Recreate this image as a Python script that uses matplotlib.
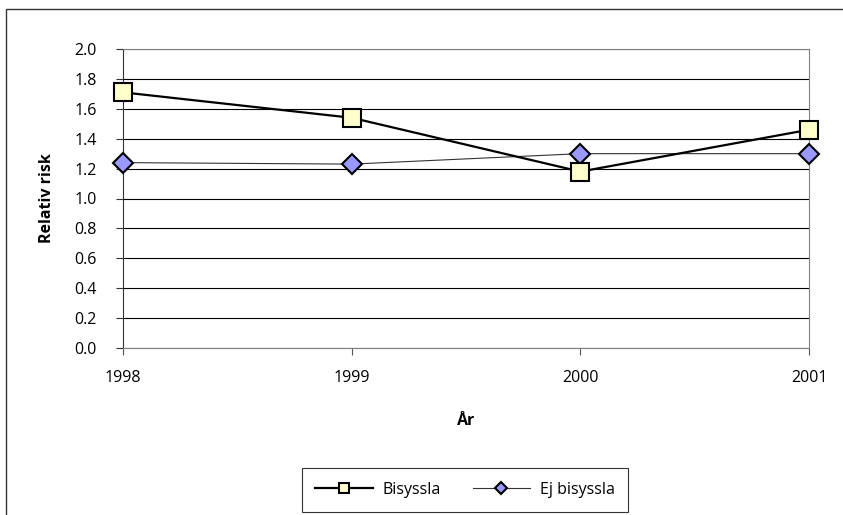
import matplotlib.pyplot as plt
from matplotlib.patches import Rectangle
from matplotlib.transforms import ScaledTranslation

plt.rcParams['font.family'] = ['Open Sans', 'DejaVu Sans']
plt.rcParams['font.size'] = 11.5

years = ['1998', '1999', '2000', '2001']
bisyssla = [1.71, 1.54, 1.18, 1.46]
ej_bisyssla = [1.24, 1.23, 1.30, 1.30]
yticks = [0.0, 0.2, 0.4, 0.6, 0.8, 1.0, 1.2, 1.4, 1.6, 1.8, 2.0]

fig = plt.figure(figsize=(8.43, 5.15), dpi=100)
ax = fig.add_axes([123/843, 1-348/515, 686/843, 299/515])

x = range(len(years))
ax.plot(x, ej_bisyssla, color='#333333', lw=0.8, marker='D', ms=10,
        mfc='#9999FF', mec='black', mew=1.5, label='Ej bisyssla', zorder=4,
        clip_on=False)
ax.plot(x, bisyssla, color='black', lw=1.6, marker='s', ms=13,
        mfc='#FFFFCC', mec='black', mew=1.5, label='Bisyssla', zorder=5,
        clip_on=False)

ax.set_xlim(0, 3)
ax.set_ylim(0, 2.0)
ax.set_xticks(list(x))
ax.set_xticklabels(years)
ax.set_yticks(yticks)
ax.set_yticklabels(['%.1f' % v for v in yticks])
for lab in ax.get_yticklabels():
    lab.set_transform(lab.get_transform() + ScaledTranslation(0, 3/100, fig.dpi_scale_trans))

ax.yaxis.grid(True, color='black', lw=0.8)
ax.set_axisbelow(True)
for s in ['top', 'right', 'bottom']:
    ax.spines[s].set_color('#808080')
ax.spines['left'].set_color('#333333')
ax.tick_params(axis='y', length=5, pad=14, color='#333333')
ax.tick_params(axis='x', length=5, pad=11, color='#555555')

ax.set_ylabel('Relativ risk', fontweight='bold', labelpad=14)
ax.set_xlabel('År', fontweight='bold', labelpad=19)

# legend: Bisyssla first
h, l = ax.get_legend_handles_labels()
leg = fig.legend(h[::-1], l[::-1], loc='center', ncol=2,
                 bbox_to_anchor=(465/843, 1-490/515), frameon=True,
                 fancybox=False, edgecolor='black', markerscale=0.6,
                 handlelength=3.6, columnspacing=2.0, borderpad=0.85,
                 handletextpad=0.6)
leg.get_frame().set_linewidth(0.8)

fig.patches.append(Rectangle((6/843, -0.1), 1.2, 1.1 - 9/515,
                             transform=fig.transFigure, fill=False,
                             edgecolor='#333333', lw=1))

fig.savefig('out.png', dpi=100)
